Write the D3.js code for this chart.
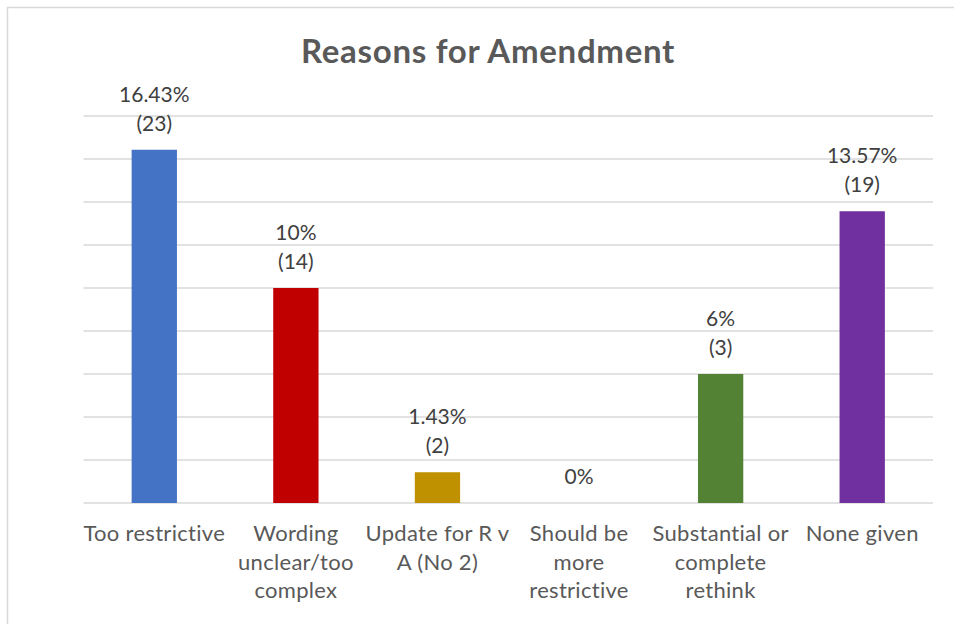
<!DOCTYPE html>
<html>
<head>
<meta charset="utf-8">
<script src="https://cdn.jsdelivr.net/npm/d3@7"></script>
<style>
  html, body { margin: 0; padding: 0; background: #ffffff; }
  svg { display: block; }
  text { font-family: Lato, "Open Sans", sans-serif; }
</style>
</head>
<body>
<div id="chart"></div>
<script>
// ---- Data ----
const categories = ["Too restrictive", "Wording unclear/too complex", "Update for R v A (No 2)", "Should be more restrictive", "Substantial or complete rethink", "None given"];
const categoryLines = [
  ["Too restrictive"],
  ["Wording", "unclear/too", "complex"],
  ["Update for R v", "A (No 2)"],
  ["Should be", "more", "restrictive"],
  ["Substantial or", "complete", "rethink"],
  ["None given"]
];
const percentValues = [16.43, 10, 1.43, 0, 6, 13.57];
const counts = [23, 14, 2, 0, 3, 19];
const barColors = ["#4472C4", "#C00000", "#BF9000", "#A5A5A5", "#548235", "#7030A0"];
const yTicks = [0, 2, 4, 6, 8, 10, 12, 14, 16, 18];
const title = "Reasons for Amendment";

// ---- Layout ----
const W = 954, H = 624;
const svg = d3.select("#chart").append("svg").attr("width", W).attr("height", H);

svg.append("rect")
  .attr("x", 7.5).attr("y", 7.5)
  .attr("width", W + 20).attr("height", H + 20)
  .attr("fill", "#ffffff").attr("stroke", "#D9D9D9").attr("stroke-width", 1.5);

const x = d3.scaleBand().domain(categories).range([83.5, 933]).paddingInner(0.68).paddingOuter(0.34);
const y = d3.scaleLinear().domain([0, 18]).range([503, 116]);

// Gridlines
svg.append("g").selectAll("line").data(yTicks).join("line")
  .attr("x1", 83.5).attr("x2", 933)
  .attr("y1", d => y(d)).attr("y2", d => y(d))
  .attr("stroke", "#D9D9D9").attr("stroke-width", 1.5);

// Bars
svg.append("g").selectAll("rect").data(categories).join("rect")
  .attr("x", d => x(d))
  .attr("width", x.bandwidth())
  .attr("y", (d, i) => y(percentValues[i]))
  .attr("height", (d, i) => y(0) - y(percentValues[i]))
  .attr("fill", (d, i) => barColors[i]);

// Data labels
const labelG = svg.append("g");
categories.forEach((c, i) => {
  const lines = counts[i] > 0 ? [percentValues[i] + "%", "(" + counts[i] + ")"] : [percentValues[i] + "%"];
  const cx = x(c) + x.bandwidth() / 2;
  const baseY = y(percentValues[i]) - 19;
  lines.forEach((t, j) => {
    labelG.append("text")
      .attr("x", cx)
      .attr("y", baseY - (lines.length - 1 - j) * 29)
      .attr("text-anchor", "middle")
      .attr("font-size", 21)
      .attr("fill", "#404040")
      .text(t);
  });
});

// Category labels
const catG = svg.append("g");
categories.forEach((c, i) => {
  const cx = x(c) + x.bandwidth() / 2;
  categoryLines[i].forEach((t, j) => {
    catG.append("text")
      .attr("x", cx)
      .attr("y", 541 + j * 28.5)
      .attr("text-anchor", "middle")
      .attr("font-size", 22)
      .attr("letter-spacing", 0.3)
      .attr("fill", "#595959")
      .text(t);
  });
});

// Title
svg.append("text")
  .attr("x", 488).attr("y", 63)
  .attr("text-anchor", "middle")
  .attr("font-size", 33)
  .attr("letter-spacing", 0.7)
  .attr("font-weight", "bold")
  .attr("fill", "#595959")
  .text(title);
</script>
</body>
</html>
